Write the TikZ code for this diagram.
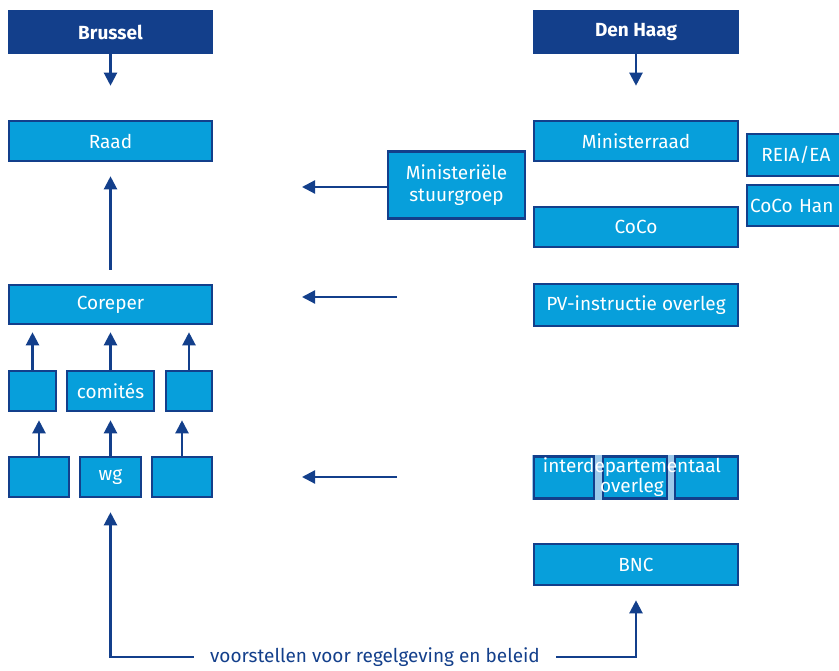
\documentclass[tikz,border=0pt]{standalone}
\usepackage{fontspec}
\setmainfont{Fira Sans}
\usetikzlibrary{arrows.meta,positioning}
\definecolor{navy}{HTML}{133F8B}
\definecolor{cyaan}{HTML}{079FDB}
\definecolor{lichtblauw}{HTML}{9CC9EA}
\tikzset{
	blok/.style={draw=navy,line width=2.6pt,fill=cyaan,text=white,inner sep=0pt,
		font=\fontsize{19}{19}\selectfont},
	kop/.style={fill=navy,text=white,inner sep=0pt,minimum height=44pt,
		font=\bfseries\fontsize{19}{21}\selectfont},
	pijl/.style={navy,line width=2.2pt,->},
}
\begin{document}
\begin{tikzpicture}[x=1pt,y=-1pt,>={Triangle[width=13pt,length=13pt]}]
			\clip (0,0) rectangle (839,671);
			% koppen
			\node[kop,minimum width=205pt] (brussel) at (110.5,32) {Brussel};
			\node[kop,minimum width=206pt] (denhaag) at (636,32) {Den Haag};
			% Brussel
			\node[blok,minimum width=203pt,minimum height=40pt] (raad) at (110.5,141) {Raad};
			\node[blok,minimum width=203pt,minimum height=39pt] (coreper) at (110.5,304.5) {Coreper};
			\node[blok,minimum width=47pt,minimum height=40pt] (comL) at (32.5,391) {};
			\node[blok,minimum width=87pt,minimum height=40pt] (comM) at (110.5,391) {comités};
			\node[blok,minimum width=46pt,minimum height=40pt] (comR) at (189,391) {};
			\node[blok,minimum width=60pt,minimum height=40pt] (wgL) at (39,477) {};
			\node[blok,minimum width=61pt,minimum height=40pt] (wgM) at (110.5,477) {wg};
			\node[blok,minimum width=60pt,minimum height=40pt] (wgR) at (182,477) {};
			% Den Haag
			\node[blok,minimum width=204pt,minimum height=40pt] (ministerraad) at (636,141) {Ministerraad};
			\node[blok,minimum width=137pt,minimum height=67pt,align=center] (stuurgroep) at (456.5,185)
			{Ministeriële\\[3pt]stuurgroep};
			\node[blok,minimum width=204pt,minimum height=40pt] (coco) at (636,227) {CoCo};
			\node[blok,minimum width=98pt,minimum height=42pt] (reia) at (796,155) {REIA/EA};
			\node[blok,text width=92pt,inner xsep=3pt,minimum height=41pt,align=left] (cocohan) at (796,205.5) {CoCo Han};
			\node[blok,minimum width=204pt,minimum height=42pt] (pv) at (636,305) {PV-instructie overleg};
			\node[fill=lichtblauw,minimum width=207pt,minimum height=45pt,inner sep=0pt] (ido) at (635.5,477.5) {};
			\node[blok,minimum width=60pt,minimum height=42pt] (idoL) at (564,477.5) {};
			\node[blok,minimum width=64pt,minimum height=42pt] (idoM) at (635,477.5) {};
			\node[blok,minimum width=63pt,minimum height=42pt] (idoR) at (706.5,477.5) {};
			\node[text=white,align=center,inner sep=0pt,font=\fontsize{19}{17}\selectfont] (idotekst) at (632,477)
			{interdepartementaal\\overleg};
			\node[blok,minimum width=204pt,minimum height=41pt] (bnc) at (636,564.5) {BNC};
			\node[text=navy,inner sep=0pt,font=\fontsize{19}{19}\selectfont] (voorstel) at (375,657)
			{voorstellen voor regelgeving en beleid};
			% losse eindpunten
			\coordinate (sgpijl) at (302,187);
			\coordinate (pvstart) at (397,297);
			\coordinate (pvpijl) at (302,297);
			\coordinate (idostart) at (397,477);
			\coordinate (idopijl) at (302,477);
			% pijlen
			\draw[pijl,shorten >=34pt] (brussel) -- (raad);
			\draw[pijl,shorten >=34pt] (denhaag) -- (ministerraad);
			\draw[pijl,shorten <=14pt,shorten >=14pt] (coreper) -- (raad);
			\foreach \b in {comL,comM,comR}
			\draw[pijl,shorten >=7pt] (\b.north) -- (\b.north |- coreper.south);
			\foreach \b/\c in {wgL/comL,wgM/comM,wgR/comR}
			\draw[pijl,shorten >=8pt] (\b.north) -- (\b.north |- \c.south);
			\draw[pijl] (stuurgroep.west |- sgpijl) -- (sgpijl);
			\draw[pijl] (pvstart) -- (pvpijl);
			\draw[pijl] (idostart) -- (idopijl);
			\draw[pijl,shorten >=14pt] (voorstel.west) ++(-16,0) -| (wgM);
			\draw[pijl,shorten >=14pt] (voorstel.east) ++(16,0) -| (bnc);
\end{tikzpicture}
\end{document}
